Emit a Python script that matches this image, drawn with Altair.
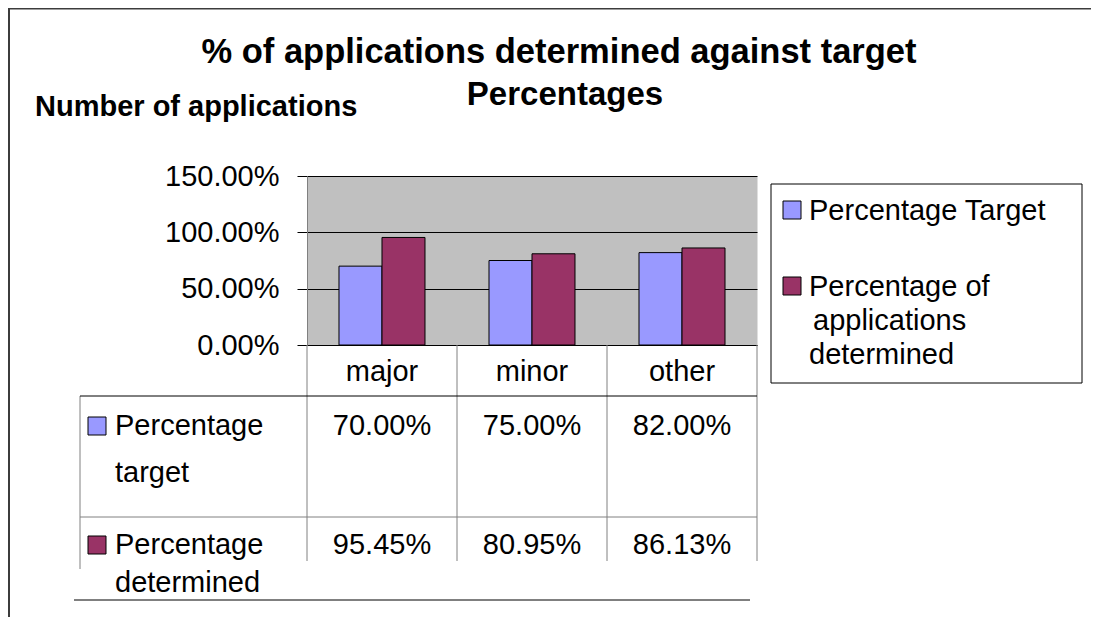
import altair as alt
import pandas as pd

# ---- data ----
categories = ["major", "minor", "other"]
series = ["Percentage Target", "Percentage of applications determined"]
target_values = [0.70, 0.75, 0.82]
determined_values = [0.9545, 0.8095, 0.8613]
colors = ["#9999FF", "#993366"]
y_ticks = [0, 0.5, 1.0, 1.5]

title_text = "% of applications determined against target"
subtitle_text = "Percentages"
left_title_text = "Number of applications"
table_row_labels = [["Percentage", "target"], ["Percentage", "determined"]]
legend_labels = [["Percentage Target"], ["Percentage of", "applications", "determined"]]

rows = []
for c, t, d in zip(categories, target_values, determined_values):
    rows.append({"cat": c, "series": series[0], "value": t})
    rows.append({"cat": c, "series": series[1], "value": d})
df = pd.DataFrame(rows)

FONT = "Liberation Sans"
W, H = 450, 169
PAD_L, PAD_T = 299, 168
TOTAL_W, TOTAL_H = 1083, 609

one = alt.Data(values=[{"k": 1}])

x_scale = alt.Scale(domain=categories, paddingInner=0.4267, paddingOuter=0.2133)
color_scale = alt.Scale(domain=series, range=colors)


def text(s, x, y, size=29, bold=False, align="left"):
    return alt.Chart(one).mark_text(
        text=s, fontSize=size, font=FONT, fontWeight="bold" if bold else "normal",
        align=align, baseline="alphabetic", color="black"
    ).encode(x=alt.value(x), y=alt.value(y))


def rule(x1, x2, y1, y2, color, width=1):
    return alt.Chart(one).mark_rule(color=color, strokeWidth=width).encode(
        x=alt.value(x1), x2=alt.value(x2), y=alt.value(y1), y2=alt.value(y2))


def box(x1, x2, y1, y2, fill, stroke="black"):
    return alt.Chart(one).mark_rect(fill=fill, stroke=stroke, strokeWidth=1).encode(
        x=alt.value(x1), x2=alt.value(x2), y=alt.value(y1), y2=alt.value(y2))


bars = alt.Chart(df).mark_bar(stroke="black", strokeWidth=1).encode(
    x=alt.X("cat:N", sort=categories, scale=x_scale,
            axis=alt.Axis(title=None, labelFontSize=29, labelFont=FONT, labelColor="black",
                          labelAngle=0, labelBaseline="alphabetic", labelPadding=35,
                          ticks=False, tickSize=0, domainColor="black", domainWidth=1)),
    xOffset=alt.XOffset("series:N", sort=series),
    y=alt.Y("value:Q", scale=alt.Scale(domain=[0, 1.5], nice=False),
            axis=alt.Axis(values=y_ticks, format=".2%", title=None, labelFontSize=29,
                          labelFont=FONT, labelColor="black", tickSize=10, tickColor="black",
                          domainColor="#808080", gridColor="black", grid=True, labelPadding=18)),
    color=alt.Color("series:N", scale=color_scale, legend=None),
)


def value_text(s, ypx):
    return alt.Chart(df).transform_filter(alt.datum.series == s).mark_text(
        fontSize=29, font=FONT, baseline="alphabetic", align="center", color="black"
    ).encode(
        x=alt.X("cat:N", sort=categories),
        y=alt.value(ypx),
        text=alt.Text("value:Q", format=".2%"),
    )


layers = [
    # outer frame
    rule(-299, 792, -167.5, -167.5, "#3c3c3c", 2),
    rule(-298, -298, -168, 445, "#3c3c3c", 2),
    # legend box
    box(464, 775, 8, 207, "white"),
    bars,
    # table lines
    rule(-227, -227, 220, 393, "#808080"),
    rule(0, 0, 169, 385, "#808080"),
    rule(150, 150, 169, 385, "#808080"),
    rule(300, 300, 169, 385, "#808080"),
    rule(450, 450, 169, 385, "#808080"),
    rule(-227, 450, 220, 220, "black"),
    rule(-227, 450, 341, 341, "#808080"),
    rule(-233, 443, 424, 424, "black"),
    # table values
    value_text(series[0], 259),
    value_text(series[1], 378),
    # table row labels
    box(-219, -201, 241, 259, colors[0]),
    text(table_row_labels[0][0], -192, 259),
    text(table_row_labels[0][1], -192, 306),
    box(-219, -201, 360, 378, colors[1]),
    text(table_row_labels[1][0], -192, 378),
    text(table_row_labels[1][1], -192, 416),
    # legend
    box(476, 494, 25, 43, colors[0]),
    text(legend_labels[0][0], 502, 44),
    box(476, 494, 101, 119, colors[1]),
    text(legend_labels[1][0], 502, 120),
    text(legend_labels[1][1], 506, 154),
    text(legend_labels[1][2], 502, 188),
    # titles
    text(title_text, 252, -113, size=34.5, bold=True, align="center"),
    text(subtitle_text, 258, -71, size=33, bold=True, align="center"),
    text(left_title_text, -272, -60, size=29, bold=True),
]

chart = alt.layer(*layers).properties(
    width=W, height=H,
    padding={"left": PAD_L, "top": PAD_T, "right": TOTAL_W - PAD_L - W,
             "bottom": TOTAL_H - PAD_T - H},
    autosize=alt.AutoSizeParams(type="none"),
    background="white",
).configure_view(fill="#C0C0C0", stroke="transparent")

chart.save("out.html", embed_options={"renderer": "svg", "actions": False})
